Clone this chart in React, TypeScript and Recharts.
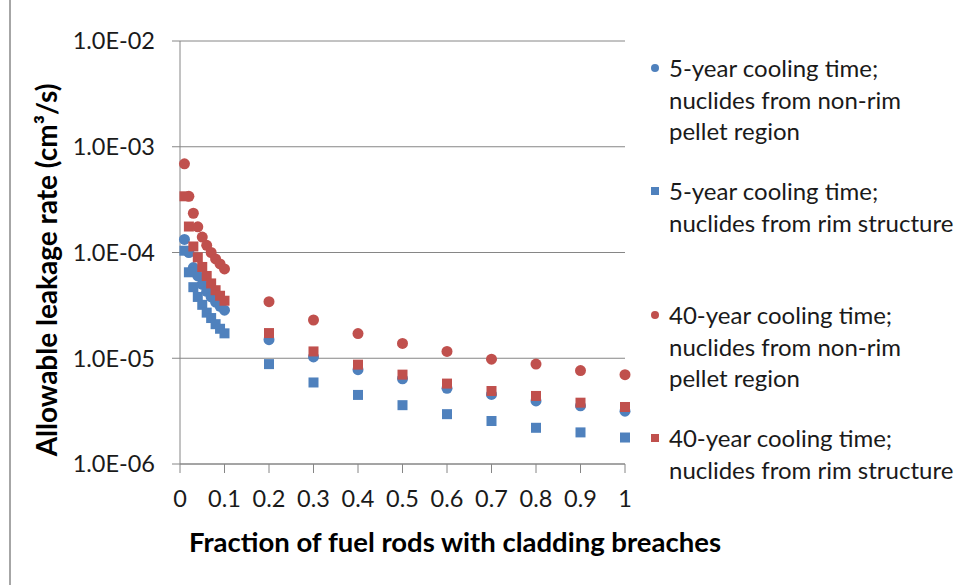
import { ScatterChart, Scatter, XAxis, YAxis, CartesianGrid } from 'recharts';

const fractions = [0.01, 0.02, 0.03, 0.04, 0.05, 0.06, 0.07, 0.08, 0.09, 0.1, 0.2, 0.3, 0.4, 0.5, 0.6, 0.7, 0.8, 0.9, 1];

const fiveYearNonRim = [1.33e-4, 1.0e-4, 7.2e-5, 6.0e-5, 5.0e-5, 4.3e-5, 3.8e-5, 3.4e-5, 3.1e-5, 2.85e-5, 1.5e-5, 1.03e-5, 7.8e-6, 6.4e-6, 5.2e-6, 4.55e-6, 3.95e-6, 3.55e-6, 3.16e-6];
const fiveYearRim = [1.04e-4, 6.5e-5, 4.7e-5, 3.8e-5, 3.2e-5, 2.7e-5, 2.4e-5, 2.1e-5, 1.9e-5, 1.72e-5, 8.8e-6, 5.9e-6, 4.5e-6, 3.6e-6, 2.96e-6, 2.55e-6, 2.2e-6, 1.99e-6, 1.78e-6];
const fortyYearNonRim = [6.9e-4, 3.4e-4, 2.35e-4, 1.75e-4, 1.4e-4, 1.17e-4, 1.0e-4, 8.7e-5, 7.8e-5, 7.0e-5, 3.43e-5, 2.3e-5, 1.71e-5, 1.38e-5, 1.16e-5, 9.8e-6, 8.8e-6, 7.65e-6, 7.0e-6];
const fortyYearRim = [3.4e-4, 1.76e-4, 1.14e-4, 9.0e-5, 7.3e-5, 6.0e-5, 5.1e-5, 4.4e-5, 3.9e-5, 3.5e-5, 1.73e-5, 1.16e-5, 8.7e-6, 7.0e-6, 5.76e-6, 4.9e-6, 4.4e-6, 3.8e-6, 3.46e-6];

const xTicks = [0, 0.1, 0.2, 0.3, 0.4, 0.5, 0.6, 0.7, 0.8, 0.9, 1];
const yTicks = [1e-6, 1e-5, 1e-4, 1e-3, 1e-2];
const yTickLabels = ['1.0E-06', '1.0E-05', '1.0E-04', '1.0E-03', '1.0E-02'];

const seriesNames = [
  ['5-year cooling time;', 'nuclides from non-rim', 'pellet region'],
  ['5-year cooling time;', 'nuclides from rim structure'],
  ['40-year cooling time;', 'nuclides from non-rim', 'pellet region'],
  ['40-year cooling time;', 'nuclides from rim structure'],
];

const BLUE = '#4F81BD';
const RED = '#C0504D';
const AXIS = '#868686';
const FONT = 'Lato, sans-serif';

const toPoints = (values: number[]) => fractions.map((x, i) => ({ x, y: values[i] }));

const series = [
  { data: toPoints(fiveYearNonRim), color: BLUE, marker: 'circle' },
  { data: toPoints(fiveYearRim), color: BLUE, marker: 'square' },
  { data: toPoints(fortyYearNonRim), color: RED, marker: 'circle' },
  { data: toPoints(fortyYearRim), color: RED, marker: 'square' },
];

const makeShape = (color: string, marker: string) => (p: any) =>
  marker === 'circle' ? (
    <circle cx={p.cx} cy={p.cy} r={5.5} fill={color} />
  ) : (
    <rect x={p.cx - 5} y={p.cy - 5} width={10} height={10} fill={color} />
  );

// top of each legend entry, px
const legendTops = [52, 175, 299, 422];

function ChartLegend() {
  return (
    <div style={{ position: 'absolute', left: 0, top: 0, fontFamily: FONT, fontSize: 24, color: '#1a1a1a' }}>
      {series.map((s, i) => (
        <div key={i} style={{ position: 'absolute', left: 649, top: legendTops[i], width: 320 }}>
          <svg width={12} height={12} style={{ position: 'absolute', left: 0, top: 10 }}>
            {s.marker === 'circle' ? (
              <circle cx={6} cy={6} r={4} fill={s.color} />
            ) : (
              <rect x={2} y={2} width={8} height={8} fill={s.color} />
            )}
          </svg>
          <div style={{ position: 'absolute', left: 20, top: 0, lineHeight: '31.5px', whiteSpace: 'nowrap' }}>
            {seriesNames[i].map((line, j) => (
              <div key={j}>{line}</div>
            ))}
          </div>
        </div>
      ))}
    </div>
  );
}

export default function App() {
  return (
    <div style={{ position: 'absolute', left: 0, top: 0, width: 964, height: 585, background: '#fff', overflow: 'hidden' }}>
      <div style={{ position: 'absolute', left: 9, top: 0, width: 2, height: 585, background: '#a6a6a6' }} />
      <ScatterChart width={964} height={585} margin={{ top: 41, right: 339, bottom: 61, left: 70 }}>
        <CartesianGrid horizontal vertical={false} stroke={AXIS} strokeWidth={1} />
        <XAxis
          type="number"
          dataKey="x"
          domain={[0, 1]}
          ticks={xTicks}
          height={60}
          stroke={AXIS}
          tickSize={9}
          tickMargin={17}
          tick={{ fill: '#1a1a1a', fontSize: 23.5, fontFamily: FONT }}
          tickFormatter={(v: number) => String(v)}
          label={() => (
            <text x={455} y={552} textAnchor="middle" fontFamily={FONT} fontWeight="bold" fontSize={27.5} fill="#000">
              Fraction of fuel rods with cladding breaches
            </text>
          )}
        />
        <YAxis
          type="number"
          dataKey="y"
          scale="log"
          domain={[1e-6, 1e-2]}
          allowDataOverflow
          ticks={yTicks}
          width={110}
          stroke={AXIS}
          tickSize={8}
          tickMargin={17}
          tick={{ fill: '#1a1a1a', fontSize: 23.5, fontFamily: FONT }}
          tickFormatter={(v: number) => yTickLabels[yTicks.findIndex((t) => Math.abs(t - v) / t < 1e-6)] ?? ''}
          label={() => (
            <text
              x={57}
              y={270}
              transform="rotate(-90 57 270)"
              textAnchor="middle"
              fontFamily={FONT}
              fontWeight="bold"
              fontSize={28}
              fill="#000"
            >
              Allowable leakage rate (cm³/s)
            </text>
          )}
        />
        {series.map((s, i) => (
          <Scatter
            key={i}
            data={s.data}
            fill={s.color}
            shape={makeShape(s.color, s.marker)}
            isAnimationActive={false}
          />
        ))}
      </ScatterChart>
      <ChartLegend />
    </div>
  );
}
